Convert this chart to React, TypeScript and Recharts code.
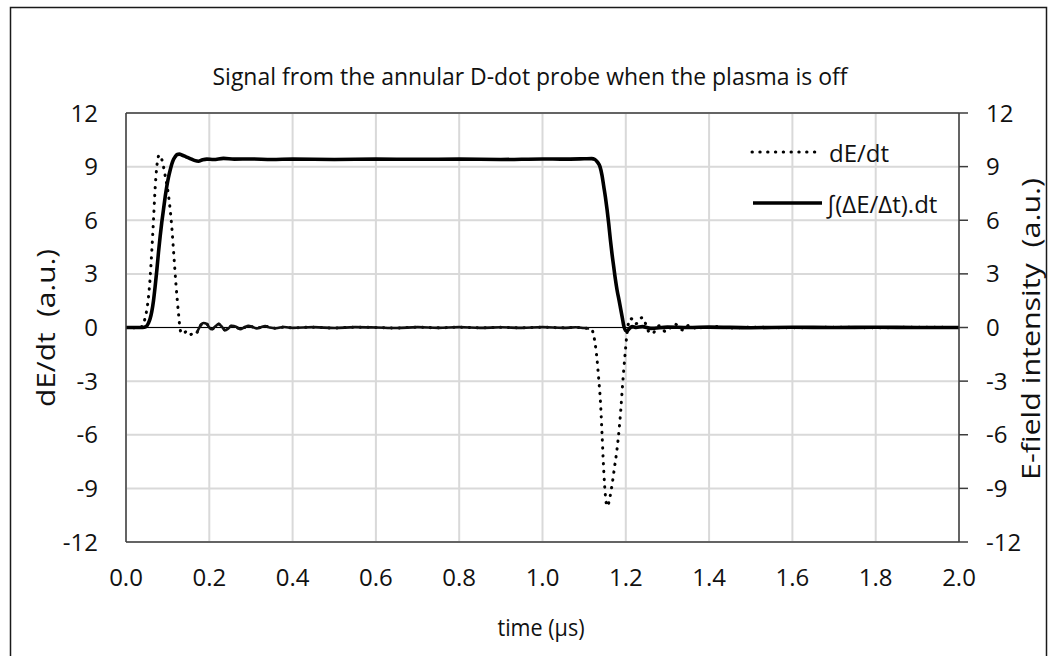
import React from "react";
import { LineChart, Line, XAxis, YAxis, CartesianGrid, ReferenceLine } from "recharts";

// ---------- data ----------
const timeTicks = [0, 0.2, 0.4, 0.6, 0.8, 1.0, 1.2, 1.4, 1.6, 1.8, 2.0];
const valueTicks = [-12, -9, -6, -3, 0, 3, 6, 9, 12];

const titleText = "Signal from the annular D-dot probe when the plasma is off";
const leftAxisTitle = "dE/dt  (a.u.)";
const rightAxisTitle = "E-field intensity  (a.u.)";
const xAxisTitle = "time (\u00b5s)";
const dEdtName = "dE/dt";
const integralName = "\u222b(\u0394E/\u0394t).dt";

// dE/dt signal (dotted)
const dEdtTime = [
  0, 0.01, 0.02, 0.03, 0.038, 0.042, 0.046, 0.05, 0.054, 0.058, 0.062, 0.066, 0.07, 0.074, 0.077,
  0.08, 0.083, 0.086, 0.09, 0.094, 0.098, 0.102, 0.106, 0.11, 0.115, 0.12, 0.126, 0.13, 0.134,
  0.14, 0.146, 0.15, 0.154, 0.16, 0.166, 0.17, 0.174, 0.18, 0.186, 0.194, 0.2, 0.206, 0.214,
  0.222, 0.23, 0.238, 0.246, 0.254, 0.264, 0.274, 0.284, 0.294, 0.304, 0.314, 0.324, 0.334,
  0.345, 0.36, 0.38, 0.4, 0.45, 0.5, 0.55, 0.6, 0.65, 0.7, 0.75, 0.8, 0.85, 0.9, 0.95, 1.0,
  1.05, 1.08, 1.1, 1.112, 1.119, 1.125, 1.131, 1.135, 1.139, 1.143, 1.147, 1.151, 1.155, 1.158,
  1.161, 1.167, 1.173, 1.179, 1.184, 1.188, 1.192, 1.195, 1.199, 1.203, 1.207, 1.211, 1.216,
  1.222, 1.228, 1.234, 1.24, 1.246, 1.252, 1.258, 1.264, 1.272, 1.28, 1.288, 1.297, 1.307,
  1.318, 1.328, 1.338, 1.346, 1.354, 1.364, 1.374, 1.386, 1.398, 1.42, 1.45, 1.5, 1.6, 1.7,
  1.8, 1.9, 2.0,
];
const dEdtValue = [
  0, 0.02, -0.02, 0, 0.05, 0.2, 0.55, 1.0, 1.7, 2.8, 4.3, 6.0, 7.8, 9.0, 9.5,
  9.65, 9.6, 9.4, 9.0, 8.5, 8.0, 7.4, 6.6, 5.6, 4.0, 2.4, 0.8, -0.1, -0.35,
  -0.3, -0.2, -0.35, -0.4, -0.35, -0.4, -0.3, -0.1, 0.15, 0.25, 0.2, 0, -0.1, 0.05,
  0.2, 0.05, -0.15, -0.05, 0.1, 0.05, -0.1, 0, 0.1, 0.03, -0.05, 0.02, 0.08,
  0, -0.04, 0.03, -0.02, 0.02, -0.03, 0.02, 0, -0.03, 0.02, -0.02, 0.02, -0.02, 0.01, -0.02, 0.02,
  -0.02, 0.01, -0.03, -0.05, -0.15, -0.7, -1.8, -2.9, -4.1, -6.0, -8.0, -9.4, -10.0, -9.9,
  -9.6, -8.8, -7.8, -6.8, -5.7, -4.6, -3.3, -2.4, -1.3, -0.3, 0.3, 0.5, 0.45,
  0.2, 0.25, 0.5, 0.55, 0.3, -0.1, -0.3, -0.35, -0.1, 0.1, -0.1, -0.25, 0,
  0.2, 0, -0.15, 0.05, 0.15, 0, -0.12, 0.05, 0, 0.05, -0.03, 0.02, -0.02, 0.02,
  -0.02, 0.02, 0,
];

// integrated signal (solid, right axis)
const integralTime = [
  0, 0.02, 0.04, 0.048, 0.054, 0.058, 0.062, 0.066, 0.07, 0.074, 0.078, 0.082, 0.086, 0.09,
  0.094, 0.098, 0.102, 0.106, 0.11, 0.114, 0.118, 0.123, 0.128, 0.134, 0.144, 0.154, 0.164,
  0.174, 0.184, 0.194, 0.21, 0.234, 0.26, 0.3, 0.35, 0.4, 0.5, 0.6, 0.7, 0.8, 0.9, 1.0, 1.05,
  1.1, 1.118, 1.126, 1.132, 1.138, 1.143, 1.147, 1.151, 1.155, 1.159, 1.163, 1.167, 1.171,
  1.175, 1.179, 1.184, 1.188, 1.192, 1.195, 1.199, 1.203, 1.209, 1.215, 1.225, 1.24, 1.26,
  1.3, 1.35, 1.4, 1.5, 1.6, 1.7, 1.8, 1.9, 2.0,
];
const integralValue = [
  0, 0, 0, 0.05, 0.25, 0.5, 0.9, 1.5, 2.3, 3.2, 4.2, 5.1, 5.9, 6.6,
  7.3, 7.9, 8.4, 8.8, 9.15, 9.4, 9.55, 9.68, 9.7, 9.65, 9.55, 9.45, 9.35,
  9.3, 9.38, 9.42, 9.4, 9.46, 9.42, 9.43, 9.4, 9.42, 9.4, 9.42, 9.41, 9.42, 9.4, 9.43, 9.42,
  9.44, 9.45, 9.4, 9.25, 9.0, 8.5, 7.9, 7.3, 6.6, 5.8, 4.9, 4.1, 3.4,
  2.7, 2.1, 1.5, 1.0, 0.5, 0.1, -0.15, -0.2, -0.05, 0.05, 0, 0.05, -0.05,
  0.02, 0, 0.02, -0.01, 0.01, 0, 0.01, 0, 0,
];

// ---------- styling constants ----------
const FONT = "'Open Sans', 'DejaVu Sans', sans-serif";
const TEXT = "#111";
const AXIS = "#3c3c3c";
const GRID = "#d9d9d9";
const DOT_DASH = "0.4 7.4";
const DOT_WIDTH = 3;
const FLAT_FROM = 0.17; // dense noisy baseline renders visually solid in the original
const FLAT_TO = 1.112;
const TICK_FONT = 24;

const dEdtRows = dEdtTime.map((t, i) => ({
  t,
  v: dEdtValue[i],
  flat: t >= FLAT_FROM && t <= FLAT_TO ? dEdtValue[i] : null,
}));
const integralRows = integralTime.map((t, i) => ({ t, v: integralValue[i] }));

const W = 1057;
const H = 656;

export default function App() {
  const tickStyle = { fill: TEXT, fontSize: TICK_FONT, fontFamily: FONT };
  return (
    <div
      style={{
        position: "absolute",
        left: 0,
        top: 0,
        width: W,
        height: H,
        overflow: "hidden",
        background: "#fff",
        fontFamily: FONT,
      }}
    >
      <LineChart
        width={W}
        height={H}
        margin={{ top: 113, right: 38, bottom: 74, left: 66 }}
      >
        <CartesianGrid stroke={GRID} strokeWidth={2} />
        <XAxis
          dataKey="t"
          type="number"
          domain={[0, 2]}
          ticks={timeTicks}
          allowDataOverflow
          tickFormatter={(v: number) => v.toFixed(1)}
          axisLine={{ stroke: AXIS, strokeWidth: 1.5 }}
          tickLine={false}
          tickSize={0}
          tickMargin={27}
          height={40}
          tick={tickStyle}
        />
        <YAxis
          type="number"
          domain={[-12, 12]}
          ticks={valueTicks}
          allowDataOverflow
          width={60}
          axisLine={{ stroke: AXIS, strokeWidth: 1.5 }}
          tickLine={false}
          tickSize={0}
          tickMargin={28}
          tick={tickStyle}
        />
        <YAxis
          yAxisId="right"
          orientation="right"
          type="number"
          domain={[-12, 12]}
          ticks={valueTicks}
          allowDataOverflow
          width={60}
          axisLine={{ stroke: AXIS, strokeWidth: 1.5 }}
          tickLine={{ stroke: AXIS, strokeWidth: 1.5 }}
          tickSize={9}
          tickMargin={18}
          tick={tickStyle}
        />
        <ReferenceLine y={12} stroke={AXIS} strokeWidth={1.5} />
        <ReferenceLine y={0} stroke="#000" strokeWidth={1} />
        <Line
          data={dEdtRows}
          dataKey="v"
          type="monotone"
          stroke="#000"
          strokeWidth={DOT_WIDTH}
          strokeDasharray={DOT_DASH}
          strokeLinecap="round"
          dot={false}
          activeDot={false}
          isAnimationActive={false}
        />
        <Line
          data={dEdtRows}
          dataKey="flat"
          type="monotone"
          stroke="#111"
          strokeWidth={2.6}
          dot={false}
          activeDot={false}
          legendType="none"
          isAnimationActive={false}
        />
        <Line
          yAxisId="right"
          data={integralRows}
          dataKey="v"
          type="monotone"
          stroke="#000"
          strokeWidth={3.6}
          dot={false}
          activeDot={false}
          isAnimationActive={false}
        />
      </LineChart>
      <svg
        width={W}
        height={H}
        style={{ position: "absolute", left: 0, top: 0, pointerEvents: "none" }}
      >
        <rect x={10.5} y={7.5} width={1036} height={700} fill="none" stroke="#1a1a1a" strokeWidth={1.5} />
        <text
          x={530}
          y={75}
          textAnchor="middle"
          dominantBaseline="central"
          fontSize={24}
          textLength={635}
          lengthAdjust="spacingAndGlyphs"
          fill={TEXT}
          fontFamily={FONT}
        >
          {titleText}
        </text>
        <text
          x={45}
          y={328}
          textAnchor="middle"
          dominantBaseline="central"
          transform="rotate(-90 45 328)"
          fontSize={25}
          textLength={158}
          lengthAdjust="spacingAndGlyphs"
          fill={TEXT}
          fontFamily={FONT}
          style={{ whiteSpace: "pre" }}
        >
          {leftAxisTitle}
        </text>
        <text
          x={1030}
          y={329}
          textAnchor="middle"
          dominantBaseline="central"
          transform="rotate(-90 1030 329)"
          fontSize={25}
          textLength={302}
          lengthAdjust="spacingAndGlyphs"
          fill={TEXT}
          fontFamily={FONT}
          style={{ whiteSpace: "pre" }}
        >
          {rightAxisTitle}
        </text>
        <text
          x={541}
          y={626}
          textAnchor="middle"
          dominantBaseline="central"
          fontSize={24}
          textLength={87}
          lengthAdjust="spacingAndGlyphs"
          fill={TEXT}
          fontFamily={FONT}
        >
          {xAxisTitle}
        </text>
        {/* legend */}
        <line
          x1={752}
          y1={152}
          x2={817}
          y2={152}
          stroke="#000"
          strokeWidth={DOT_WIDTH}
          strokeDasharray={DOT_DASH}
          strokeLinecap="round"
        />
        <text x={829} y={152} dominantBaseline="central" fontSize={24} fill={TEXT} fontFamily={FONT}>
          {dEdtName}
        </text>
        <line x1={753} y1={203} x2={822} y2={203} stroke="#000" strokeWidth={3.6} />
        <text x={826} y={203} dominantBaseline="central" fontSize={24} fill={TEXT} fontFamily={FONT}>
          {integralName}
        </text>
      </svg>
    </div>
  );
}
